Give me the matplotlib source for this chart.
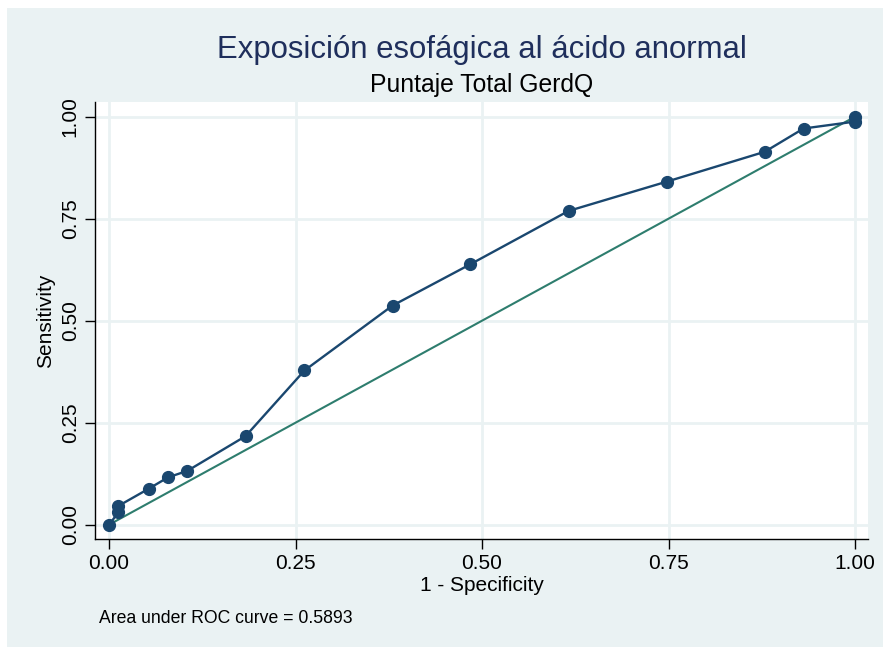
import matplotlib

matplotlib.use("Agg")

import matplotlib.pyplot as plt
from matplotlib.patches import Rectangle

# ROC points (1 - specificity, sensitivity)
fpr = [0.0, 0.0125, 0.0125, 0.053, 0.079, 0.105, 0.183, 0.262,
       0.380, 0.484, 0.616, 0.748, 0.879, 0.931, 1.0, 1.0]
tpr = [0.0, 0.030, 0.046, 0.088, 0.116, 0.132, 0.217, 0.378,
       0.537, 0.638, 0.769, 0.841, 0.914, 0.971, 0.988, 1.0]
ticks = [0.0, 0.25, 0.5, 0.75, 1.0]
tick_labels = ["0.00", "0.25", "0.50", "0.75", "1.00"]
title = "Exposición esofágica al ácido anormal"
subtitle = "Puntaje Total GerdQ"
auc_note = "Area under ROC curve = 0.5893"

plt.rcParams["font.family"] = ["Liberation Sans", "DejaVu Sans"]

W, H = 883, 647
fig = plt.figure(figsize=(W / 100, H / 100), dpi=100, facecolor="white")
# stata-like graph region (light blue-gray), small white strip top/left
fig.patches.append(Rectangle((7 / W, 0), 1 - 7 / W, 1 - 8 / H,
                             transform=fig.transFigure, facecolor="#eaf2f3",
                             edgecolor="none", zorder=-10))

ax = fig.add_axes([95 / W, 1 - 539 / H, (868 - 95) / W, (539 - 102) / H])
ax.set_facecolor("white")

ax.plot([0, 1], [0, 1], color="#2e7d6e", linewidth=1.5, zorder=2)
ax.plot(fpr, tpr, color="#1a476f", linewidth=1.7, marker="o",
        markersize=8.5, markerfacecolor="#1a476f", markeredgecolor="#1a476f",
        zorder=3)

ax.set_xlim(-0.0188, 1.0174)
ax.set_ylim(-0.035, 1.036)
ax.set_xticks(ticks)
ax.set_xticklabels(tick_labels)
ax.set_yticks(ticks)
ax.set_yticklabels(tick_labels, rotation=90, va="center")
ax.tick_params(axis="both", labelsize=15, length=7, width=1, color="black",
               direction="out", pad=4)
ax.grid(True, color="#eaf2f3", linewidth=2)
ax.set_axisbelow(True)

for side in ["top", "right"]:
    ax.spines[side].set_visible(False)
for side in ["left", "bottom"]:
    ax.spines[side].set_linewidth(1)
    ax.spines[side].set_color("black")

ax.set_xlabel("1 - Specificity", fontsize=15, labelpad=2)
ax.set_ylabel("Sensitivity", fontsize=15, labelpad=4)

cx = (95 + 868) / 2 / W
fig.text(cx, 1 - 58 / H, title, fontsize=22.4, color="#1f2f5c",
         ha="center", va="baseline")
fig.text(cx, 1 - 92 / H, subtitle, fontsize=17.8, color="black",
         ha="center", va="baseline")
fig.text(99 / W, 1 - 623 / H, auc_note, fontsize=12.7, color="black",
         ha="left", va="baseline")

fig.savefig("out.png", dpi=100, facecolor=fig.get_facecolor())
